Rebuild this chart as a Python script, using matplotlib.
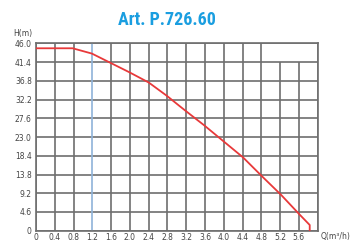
import matplotlib.pyplot as plt
from matplotlib import font_manager

# pump curve P.726.60
q = [0.0, 0.78, 1.19, 1.59, 1.99, 2.40, 2.79, 3.07, 3.29, 3.58, 4.00, 4.41, 4.81, 5.22, 5.62, 5.83, 5.83]
h = [44.8, 44.8, 43.5, 41.2, 38.9, 36.4, 33.1, 30.5, 28.5, 25.9, 21.9, 18.0, 13.4, 8.8, 3.9, 1.4, 0.0]

x_ticks = [0, 0.4, 0.8, 1.2, 1.6, 2.0, 2.4, 2.8, 3.2, 3.6, 4.0, 4.4, 4.8, 5.2, 5.6]
x_labels = ["0", "0.4", "0.8", "1.2", "1.6", "2.0", "2.4", "2.8", "3.2", "3.6",
            "4.0", "4.4", "4.8", "5.2", "5.6"]
y_ticks = [0, 4.6, 9.2, 13.8, 18.4, 23.0, 27.6, 32.2, 36.8, 41.4, 46.0]
y_labels = ["0", "4.6", "9.2", "13.8", "18.4", "23.0", "27.6", "32.2", "36.8", "41.4", "46.0"]
grid_x = [0.4 * i for i in range(16)]

grid_col = "#6e6e6e"
text_col = "#444444"

# narrow bold face for the title, if one is installed
have = {f.name for f in font_manager.fontManager.ttflist}
narrow = ["Roboto Condensed", "Arial Narrow", "Liberation Sans Narrow", "Archivo Narrow",
          "PT Sans Narrow", "Fira Sans Condensed", "IBM Plex Sans Condensed",
          "Encode Sans Condensed", "Open Sans Condensed", "Barlow Semi Condensed",
          "Barlow Condensed"]
title_font = next((n for n in narrow if n in have), "DejaVu Sans")

fig = plt.figure(figsize=(3.63, 2.42), dpi=100)
ax = fig.add_axes([0.0992, 0.0467, 0.776, 0.774])
ax.set_xlim(0, 6.0)
ax.set_ylim(0, 46)

# grid
for y in y_ticks:
    ax.axhline(y, color=grid_col, lw=1.2, zorder=1)
for i, x in enumerate(grid_x):
    top = 41.4 if i in (13, 14) else 46
    col = "#8fb3d9" if i == 3 else grid_col
    ax.vlines(x, 0, top, color=col, lw=1.2, zorder=1)

ax.plot(q, h, color="#e8393a", lw=1.3, zorder=3)

for s in ax.spines.values():
    s.set_color(grid_col)
    s.set_linewidth(1.2)

ax.set_xticks(x_ticks)
ax.set_xticklabels(x_labels)
ax.set_yticks(y_ticks)
ax.set_yticklabels(y_labels)
ax.tick_params(length=0, labelsize=5.5, colors=text_col, pad=3)
ax.tick_params(axis="x", pad=2)

fig.text(0.09, 0.843, "H(m)", fontsize=5.5, color=text_col, ha="right", va="bottom")
fig.text(0.882, 0.005, "Q(m³/h)", fontsize=5.5, color=text_col, ha="left", va="bottom")

title = fig.text(0.46, 0.917, "Art. P.726.60", fontsize=13, fontweight="bold",
                 fontstretch="condensed", color="#1a9ee0", ha="center", va="center",
                 family=[title_font, "DejaVu Sans"])
# shrink to the reference width (~98 px) if the face is too wide
w = title.get_window_extent(fig.canvas.get_renderer()).width
if w > 98:
    title.set_fontsize(13 * 98 / w)

fig.savefig("out.png", dpi=100)
